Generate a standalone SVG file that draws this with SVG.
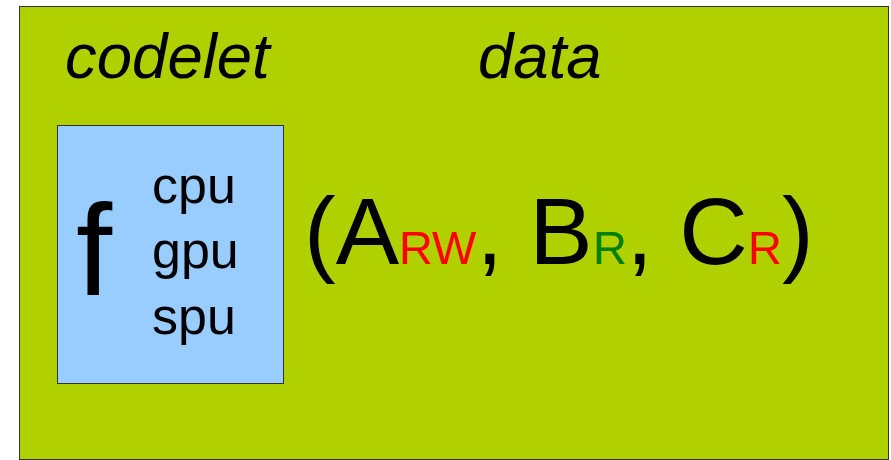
<svg xmlns="http://www.w3.org/2000/svg" width="891" height="460" viewBox="0 0 891 460">
  <style>
    text { font-family: "Liberation Sans", Arial, sans-serif; fill: #000; }
    .title { font-size: 63.5px; font-style: italic; }
    .arch { font-size: 52px; }
    .big { font-size: 95px; }
    .sub { font-size: 47px; }
    .rw { fill: #ff0000; }
    .r { fill: #008000; }
  </style>
  <!-- outer task frame -->
  <g id="task">
    <rect x="19.5" y="6.5" width="869" height="453" fill="#b0d000" stroke="#333" stroke-width="1"/>
    <text class="title" x="65" y="78">codelet</text>
    <text class="title" x="478" y="78">data</text>
  </g>
  <!-- codelet box -->
  <g id="codelet">
    <rect x="57.5" y="125.5" width="226" height="258" fill="#99ccff" stroke="#333" stroke-width="1"/>
    <text x="76" y="295" style="font-size:130px">f</text>
    <text class="arch" x="152" y="203">cpu</text>
    <text class="arch" x="152" y="268">gpu</text>
    <text class="arch" x="152" y="334">spu</text>
  </g>
  <!-- data arguments with access modes -->
  <g id="data">
    <text class="big" x="304" y="264">(A<tspan class="sub rw">RW</tspan>, B<tspan class="sub r">R</tspan>, C<tspan class="sub rw">R</tspan>)</text>
  </g>
  <g id="connectors"/>
</svg>
